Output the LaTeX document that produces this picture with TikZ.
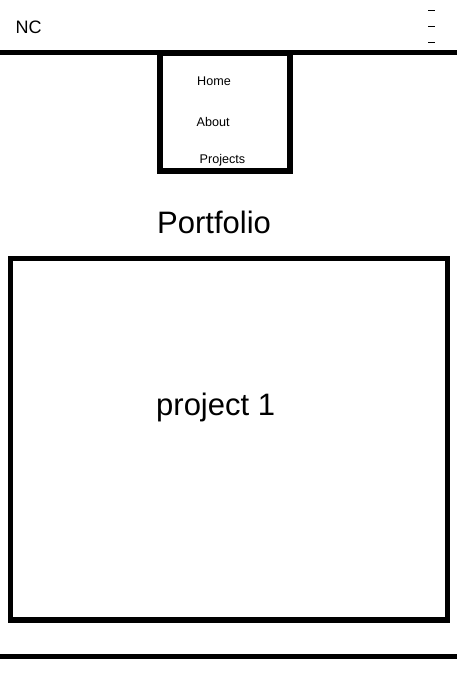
\documentclass[tikz,border=0pt]{standalone}
\usepackage{fontspec}
\setmainfont{Liberation Sans}
\usetikzlibrary{calc}

\begin{document}
\begin{tikzpicture}[x=1pt, y=-1pt,
                    bar/.style={line width=5pt},
                    frame/.style={draw, line width=5.5pt},
                    label/.style={anchor=base west, inner sep=0pt},
                    menuitem/.style={label, font=\fontsize{12.6}{14}\selectfont},
                    title/.style={label, font=\fontsize{31}{36}\selectfont}
                    ]
    \useasboundingbox (0,0) rectangle (457,683);

    \def\Wx{457}
    \def\Ty{52.5}  \def\Fy{656.5}

    \coordinate (TL) at (0,\Ty);
    \coordinate (TR) at (\Wx,\Ty);
    \coordinate (FL) at (0,\Fy);
    \coordinate (FR) at (\Wx,\Fy);

    \coordinate (M1) at (160,53);
    \coordinate (M2) at (290,171);
    \coordinate (P1) at (10.5,258.5);
    \coordinate (P2) at (447.5,620);

    % header and footer
    \draw[bar] (TL)--(TR);
    \draw[bar] (FL)--(FR);

    % menu icon
    \foreach \y in {10.5,26,42}
        \draw[line width=1pt] (428,\y)--(435,\y);

    % drop-down menu and project card
    \draw[frame] (M1) rectangle (M2);
    \draw[frame] (P1) rectangle (P2);

    \node[label, font=\fontsize{18}{21}\selectfont] (logo) at (15.5,33) {NC};
    \node[menuitem] (home) at (197,85) {Home};
    \node[menuitem] (about) at (196.5,126) {About};
    \node[menuitem] (projects) at (199.5,163) {Projects};
    \node[title] (portfolio) at (157,233) {Portfolio};
    \node[title] (project) at (156,415) {project 1};
\end{tikzpicture}
\end{document}
